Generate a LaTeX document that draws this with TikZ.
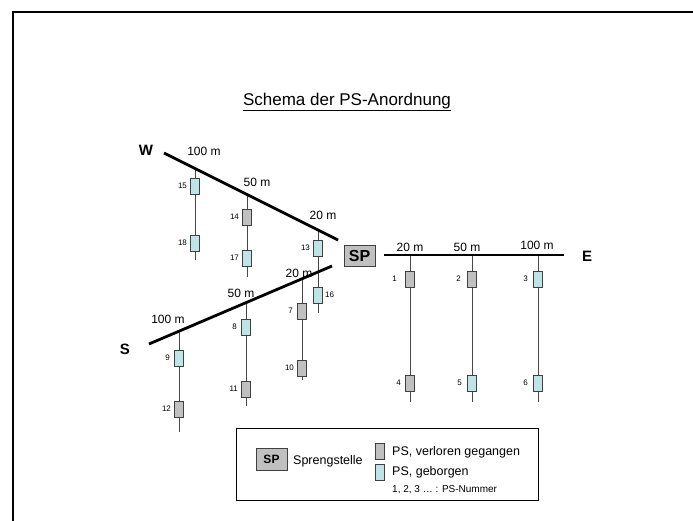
\documentclass[tikz,border=0pt]{standalone}
\usepackage{fontspec}
\setmainfont{Liberation Sans}
\definecolor{lostgrey}{RGB}{192,192,192}
\definecolor{foundcyan}{RGB}{190,228,232}
\definecolor{boxborder}{RGB}{64,64,64}
\definecolor{stemgrey}{RGB}{70,70,70}
\begin{document}
\begin{tikzpicture}[x=1pt,y=-1pt,
  lost/.style={draw=boxborder,line width=0.8pt,fill=lostgrey,minimum width=9pt,minimum height=16pt,inner sep=0pt},
  found/.style={draw=boxborder,line width=0.8pt,fill=foundcyan,minimum width=9pt,minimum height=16pt,inner sep=0pt},
  numlab/.style={font=\fontsize{8}{9}\selectfont,inner sep=1pt},
  dist/.style={font=\fontsize{12}{14}\selectfont,inner sep=0pt},
  dir/.style={font=\fontsize{15}{17}\bfseries\selectfont,inner sep=0pt},
  main/.style={line width=2.8pt,black},
  stem/.style={line width=0.9pt,stemgrey},
  spbox/.style={draw=boxborder,line width=0.9pt,fill=lostgrey,inner sep=0pt}]
\useasboundingbox (0,0) rectangle (693,521);
% frame
\draw[line width=2pt] (693,12) -- (13,12) -- (13,521);
% title
\node[font=\fontsize{17}{20}\selectfont,inner sep=0pt] (title) at (347,102) {\underline{Schema der PS-Anordnung}};
% SP
\node[spbox,minimum width=31pt,minimum height=21pt,font=\fontsize{16}{18}\bfseries\selectfont] (SP) at (359.5,255.5) {SP};
% main lines
\coordinate (Wa) at (164,153); \coordinate (Wb) at (338,240);
\coordinate (Sa) at (149,344); \coordinate (Sb) at (332,266);
\coordinate (Ea) at (384,255); \coordinate (Eb) at (564,255);
\node[dir] (W) at (146,150) {W};
\node[dir] (S) at (125,349) {S};
\node[dir] (E) at (587,256) {E};
% stems W
\coordinate (w1t) at (195,168.5); \coordinate (w1b) at (195,260);
\coordinate (w2t) at (247,194.5); \coordinate (w2b) at (247,277);
\coordinate (w3t) at (318,230);   \coordinate (w3b) at (318,313);
% stems S
\coordinate (s1t) at (179,331);   \coordinate (s1b) at (179,432);
\coordinate (s2t) at (246,302.7); \coordinate (s2b) at (246,406);
\coordinate (s3t) at (302,279);   \coordinate (s3b) at (302,380);
% stems E
\coordinate (e1t) at (410,255); \coordinate (e1b) at (410,402);
\coordinate (e2t) at (472,255); \coordinate (e2b) at (472,402);
\coordinate (e3t) at (538,255); \coordinate (e3b) at (538,402);
\foreach \t/\b in {w1t/w1b,w2t/w2b,w3t/w3b,s1t/s1b,s2t/s2b,s3t/s3b,e1t/e1b,e2t/e2b,e3t/e3b}
  \draw[stem] (\t) -- (\b);
\draw[main] (Wa) -- (Wb);
\draw[main] (Sa) -- (Sb);
\draw[main] (Ea) -- (Eb);
% distance labels
\node[dist] (dw100) at (204,151) {100 m};
\node[dist] (dw50) at (257,182) {50 m};
\node[dist] (dw20) at (323,215) {20 m};
\node[dist] (ds100) at (168,319) {100 m};
\node[dist] (ds50) at (241,293) {50 m};
\node[dist] (ds20) at (299,273) {20 m};
\node[dist] (de20) at (410,247) {20 m};
\node[dist] (de50) at (467,247) {50 m};
\node[dist] (de100) at (537,245) {100 m};
% boxes
\node[found] (b15) at (195,186) {}; \node[numlab,anchor=east] (l15) at ([xshift=-2pt]b15.west) {15};
\node[found] (b18) at (195,243) {}; \node[numlab,anchor=east] (l18) at ([xshift=-2pt]b18.west) {18};
\node[lost]  (b14) at (247,217) {}; \node[numlab,anchor=east] (l14) at ([xshift=-2pt]b14.west) {14};
\node[found] (b17) at (247,258) {}; \node[numlab,anchor=east] (l17) at ([xshift=-2pt]b17.west) {17};
\node[found] (b13) at (318,248) {}; \node[numlab,anchor=east] (l13) at ([xshift=-2pt]b13.west) {13};
\node[found] (b16) at (318,295) {}; \node[numlab,anchor=west] (l16) at ([xshift=1pt]b16.east) {16};
\node[found] (b9)  at (179,358) {}; \node[numlab,anchor=east] (l9) at ([xshift=-3pt]b9.west) {9};
\node[lost]  (b12) at (179,409) {}; \node[numlab,anchor=east] (l12) at ([xshift=-2pt]b12.west) {12};
\node[found] (b8)  at (246,327) {}; \node[numlab,anchor=east] (l8) at ([xshift=-3pt]b8.west) {8};
\node[lost]  (b11) at (246,389) {}; \node[numlab,anchor=east] (l11) at ([xshift=-2pt]b11.west) {11};
\node[lost]  (b7)  at (302,311) {}; \node[numlab,anchor=east] (l7) at ([xshift=-3pt]b7.west) {7};
\node[lost]  (b10) at (302,368) {}; \node[numlab,anchor=east] (l10) at ([xshift=-2pt]b10.west) {10};
\node[lost]  (b1)  at (410,279) {}; \node[numlab,anchor=east] (l1) at ([xshift=-7pt]b1.west) {1};
\node[lost]  (b4)  at (410,383) {}; \node[numlab,anchor=east] (l4) at ([xshift=-3pt]b4.west) {4};
\node[lost]  (b2)  at (472,279) {}; \node[numlab,anchor=east] (l2) at ([xshift=-5pt]b2.west) {2};
\node[found] (b5)  at (472,383) {}; \node[numlab,anchor=east] (l5) at ([xshift=-4pt]b5.west) {5};
\node[found] (b3)  at (538,279) {}; \node[numlab,anchor=east] (l3) at ([xshift=-4pt]b3.west) {3};
\node[found] (b6)  at (538,383) {}; \node[numlab,anchor=east] (l6) at ([xshift=-4pt]b6.west) {6};
% legend
\node[draw=black,line width=0.8pt,minimum width=302pt,minimum height=72pt,inner sep=0pt,anchor=north west] (legend) at (236,428) {};
\node[spbox,minimum width=31pt,minimum height=22pt,font=\fontsize{12}{14}\bfseries\selectfont] (lsp) at (271.5,459) {SP};
\node[font=\fontsize{12.5}{14}\selectfont,inner sep=0pt,anchor=west] (lsptext) at (293,461) {Sprengstelle};
\node[lost,minimum width=9pt,minimum height=16pt] (llost) at (379.5,451) {};
\node[found,minimum width=9pt,minimum height=16pt] (lfound) at (379.5,472.5) {};
\node[font=\fontsize{12.5}{14}\selectfont,inner sep=0pt,anchor=west] (llosttext) at (392,452) {PS, verloren gegangen};
\node[font=\fontsize{12.5}{14}\selectfont,inner sep=0pt,anchor=west] (lfoundtext) at (392,472) {PS, geborgen};
\node[font=\fontsize{10}{12}\selectfont,inner sep=0pt,anchor=west] (lnum) at (392,490) {1, 2, 3 … : PS-Nummer};
\end{tikzpicture}
\end{document}
